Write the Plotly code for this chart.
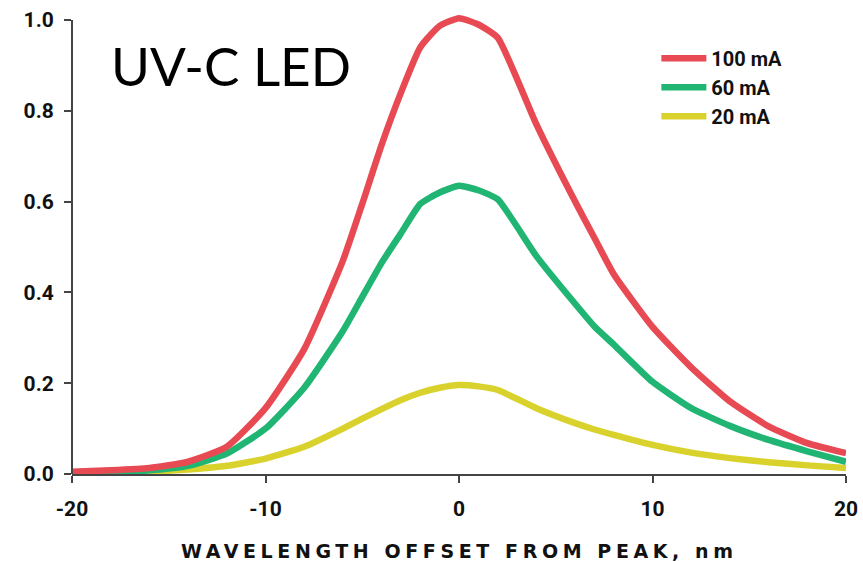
import plotly.graph_objects as go

# Wavelength offset from the emission peak (nm)
offset_nm = [-20, -18, -16, -14, -12, -10, -8, -6, -5, -4, -3, -2, -1, 0, 1, 2, 4, 6, 7, 8, 10, 12, 14, 16, 18, 20]

# Relative spectral intensity at each drive current
i_100ma = [0.005, 0.008, 0.013, 0.027, 0.06, 0.145, 0.275, 0.47, 0.595, 0.725, 0.84, 0.94, 0.987, 1.004, 0.99, 0.961,
           0.77, 0.6, 0.52, 0.44, 0.324, 0.235, 0.16, 0.105, 0.068, 0.046]
i_60ma = [0.003, 0.004, 0.008, 0.018, 0.045, 0.1, 0.19, 0.315, 0.39, 0.465, 0.53, 0.595, 0.62, 0.635, 0.625, 0.605,
          0.48, 0.375, 0.325, 0.285, 0.203, 0.145, 0.106, 0.075, 0.05, 0.027]
i_20ma = [0.002, 0.003, 0.005, 0.01, 0.018, 0.034, 0.06, 0.1, 0.122, 0.143, 0.163, 0.179, 0.19, 0.196, 0.193, 0.185,
          0.145, 0.112, 0.098, 0.086, 0.064, 0.047, 0.035, 0.026, 0.019, 0.013]

series_names = ["20 mA", "60 mA", "100 mA"]
series_values = [i_20ma, i_60ma, i_100ma]
series_colors = ["#d9d22c", "#21b574", "#e84a53"]

x_ticks = [-20, -10, 0, 10, 20]
x_tick_labels = ["-20", "-10", "0", "10", "20"]
y_ticks = [0.0, 0.2, 0.4, 0.6, 0.8, 1.0]

fig = go.Figure()
for name, vals, col in zip(series_names, series_values, series_colors):
    fig.add_trace(go.Scatter(
        x=offset_nm, y=vals, name=name, mode="lines", legendgroup=name,
        line=dict(color=col, width=6.5, shape="spline", smoothing=0.5),
    ))

tick_font = dict(family="Roboto", size=21, color="#111111", weight="bold")

fig.update_layout(
    width=863, height=562,
    margin=dict(l=72, r=17, t=10, b=88),
    paper_bgcolor="white", plot_bgcolor="white",
    showlegend=True,
    legend=dict(
        x=0.755, y=0.938, xanchor="left", yanchor="top",
        traceorder="reversed", tracegroupgap=6,
        font=dict(family="Roboto", size=20, color="#111111", weight="bold"),
        bgcolor="rgba(0,0,0,0)", itemwidth=45,
    ),
    xaxis=dict(
        range=[-20, 20], tickvals=x_ticks, ticktext=x_tick_labels,
        ticks="outside", ticklen=7, ticklabelstandoff=8, automargin=False,
        tickwidth=2, tickcolor="#444444", showline=True, linecolor="#444444",
        linewidth=2, showgrid=False, zeroline=False, tickfont=tick_font,
    ),
    yaxis=dict(
        range=[0, 1.022], tickvals=y_ticks, tickformat=".1f", ticks="outside",
        ticklen=7, ticklabelstandoff=6, tickwidth=2, tickcolor="#444444",
        automargin=False, showline=False, showgrid=False, zeroline=False,
        tickfont=tick_font,
    ),
    shapes=[dict(
        type="line", xref="paper", yref="y", x0=0, x1=0, y0=0, y1=1.0,
        line=dict(color="#444444", width=2),
    )],
    annotations=[
        dict(
            text="UV-C LED", xref="paper", yref="paper", x=0.048, y=0.881,
            xanchor="left", yanchor="middle", showarrow=False,
            font=dict(family="Lato", size=53, color="#000000"),
        ),
        dict(
            text='<span style="letter-spacing:4.6px">WAVELENGTH OFFSET FROM PEAK, nm</span>',
            xref="paper", yref="paper", x=0.5, y=-0.166,
            xanchor="center", yanchor="middle", showarrow=False,
            font=dict(family="DejaVu Sans", size=19, color="#111111", weight="bold"),
        ),
    ],
)

fig.write_html("out.html")
